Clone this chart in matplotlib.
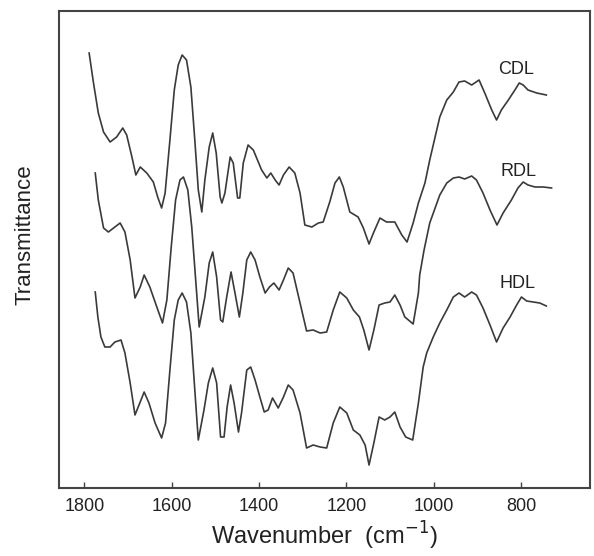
"""
IR spectra of CDL, RDL and HDL, stacked (transmittance, arbitrary offsets)
"""
import matplotlib
matplotlib.use("Agg")
import matplotlib.pyplot as plt

# wavenumber [cm-1] and transmittance (arb. units, offset per sample)
cdl_wn = [1789, 1779, 1768, 1756, 1741, 1726, 1712, 1703, 1691, 1682, 1672, 1657, 1642,
          1632, 1623, 1615, 1604, 1594, 1585, 1576, 1566, 1556, 1547, 1539, 1531, 1524,
          1514, 1506, 1498, 1489, 1485, 1478, 1466, 1459, 1449, 1444, 1436, 1425, 1413,
          1394, 1382, 1373, 1363, 1354, 1344, 1331, 1318, 1306, 1295, 1279, 1264, 1253,
          1238, 1226, 1216, 1207, 1192, 1173, 1161, 1148, 1138, 1123, 1108, 1089, 1073,
          1061, 1047, 1035, 1020, 1009, 986, 970, 955, 942, 929, 913, 896, 883, 867,
          856, 845, 829, 814, 804, 795, 784, 764, 742]
cdl_tr = [435, 405, 375, 356, 346, 351, 360, 353, 331, 313, 321, 315, 306,
          291, 280, 295, 348, 398, 423, 433, 428, 401, 348, 298, 276, 308,
          341, 355, 335, 291, 285, 295, 331, 325, 290, 290, 325, 343, 338,
          318, 310, 315, 308, 303, 313, 321, 315, 295, 263, 261, 265, 266,
          286, 305, 311, 301, 276, 271, 260, 244, 255, 270, 266, 266, 253,
          246, 265, 285, 305, 328, 371, 388, 396, 406, 407, 403, 408, 395, 378,
          368, 378, 388, 398, 405, 403, 398, 395, 393]

rdl_wn = [1775, 1768, 1756, 1745, 1730, 1718, 1707, 1695, 1684, 1672, 1663, 1650, 1634,
          1621, 1611, 1601, 1591, 1581, 1573, 1563, 1554, 1545, 1537, 1524, 1514, 1506,
          1497, 1488, 1483, 1474, 1464, 1455, 1445, 1437, 1428, 1419, 1409, 1398, 1386,
          1376, 1366, 1354, 1344, 1333, 1322, 1306, 1291, 1276, 1260, 1245, 1230, 1215,
          1199, 1184, 1170, 1160, 1148, 1137, 1125, 1112, 1100, 1089, 1077, 1066, 1047,
          1035, 1032, 1022, 1009, 986, 970, 955, 942, 929, 913, 902, 887, 871, 855,
          841, 822, 807, 795, 784, 768, 749, 730]
rdl_tr = [315, 288, 260, 256, 261, 265, 256, 228, 190, 201, 213, 201, 181,
          165, 188, 241, 288, 308, 311, 298, 261, 208, 161, 191, 225, 236,
          211, 168, 166, 191, 216, 195, 171, 195, 228, 236, 228, 211, 195,
          201, 205, 198, 208, 220, 215, 185, 157, 158, 155, 156, 178, 196,
          190, 178, 171, 158, 138, 158, 183, 185, 186, 193, 183, 171, 164,
          195, 213, 238, 265, 293, 305, 310, 311, 309, 312, 308, 295, 278, 263,
          275, 288, 300, 306, 303, 301, 301, 300]

hdl_wn = [1775, 1769, 1762, 1753, 1741, 1730, 1716, 1707, 1695, 1684, 1672, 1663, 1652,
          1638, 1623, 1614, 1604, 1594, 1585, 1576, 1566, 1556, 1547, 1539, 1526, 1516,
          1506, 1497, 1488, 1480, 1473, 1465, 1457, 1447, 1440, 1428, 1419, 1409, 1398,
          1388, 1379, 1369, 1356, 1344, 1333, 1322, 1306, 1291, 1276, 1260, 1245, 1230,
          1215, 1199, 1184, 1169, 1157, 1148, 1137, 1125, 1112, 1100, 1089, 1077, 1064,
          1048, 1035, 1024, 1016, 1001, 986, 970, 955, 942, 929, 913, 902, 887, 871,
          856, 841, 825, 810, 799, 787, 772, 757, 742]
hdl_tr = [196, 171, 151, 141, 141, 146, 148, 135, 105, 73, 86, 96, 85,
          65, 50, 65, 118, 168, 188, 195, 186, 155, 98, 48, 78, 105,
          120, 105, 51, 51, 81, 103, 85, 56, 75, 118, 121, 108, 91,
          76, 78, 90, 80, 91, 103, 98, 75, 40, 43, 41, 40, 65,
          81, 75, 58, 53, 43, 23, 45, 71, 68, 71, 76, 61, 51,
          48, 85, 121, 135, 151, 165, 178, 191, 195, 191, 196, 193, 180, 163,
          146, 160, 171, 183, 191, 187, 186, 185, 182]

names = ["CDL", "RDL", "HDL"]
label_pos = [(812, 418), (805, 316), (807, 205)]
xticks = [1800, 1600, 1400, 1200, 1000, 800]


def main():
    plt.rcParams["font.family"] = ["Liberation Sans", "DejaVu Sans"]
    fig = plt.figure(figsize=(5.94, 5.56), dpi=100)
    ax = fig.add_axes([59 / 594, 1 - 488 / 556, 531 / 594, 477 / 556])

    line_col = "#3a3a3a"
    for wn, tr in [(cdl_wn, cdl_tr), (rdl_wn, rdl_tr), (hdl_wn, hdl_tr)]:
        ax.plot(wn, tr, color=line_col, linewidth=1.2, solid_joinstyle="round")

    for name, (xp, yp) in zip(names, label_pos):
        ax.text(xp, yp, name, ha="center", va="center", fontsize=13, color="#222222")

    ax.set_xlim(1858, 642)
    ax.set_ylim(0, 477)
    ax.set_xticks(xticks)
    ax.set_yticks([])
    ax.tick_params(axis="x", direction="in", length=4, width=1, colors="#444444",
                   labelsize=13, labelcolor="#222222", pad=7)
    for sp in ax.spines.values():
        sp.set_linewidth(1.5)
        sp.set_color("#444444")

    fig.text(0.5 * (59 + 590) / 594, 1 - 536 / 556, "Wavenumber  (cm$^{-1}$)",
             ha="center", va="center", fontsize=17, color="#222222")
    fig.text(25 / 594, 1 - 235 / 556, "Transmittance", rotation=90,
             ha="center", va="center", fontsize=16, color="#222222")

    fig.savefig("out.png", dpi=100)


if __name__ == "__main__":
    main()
